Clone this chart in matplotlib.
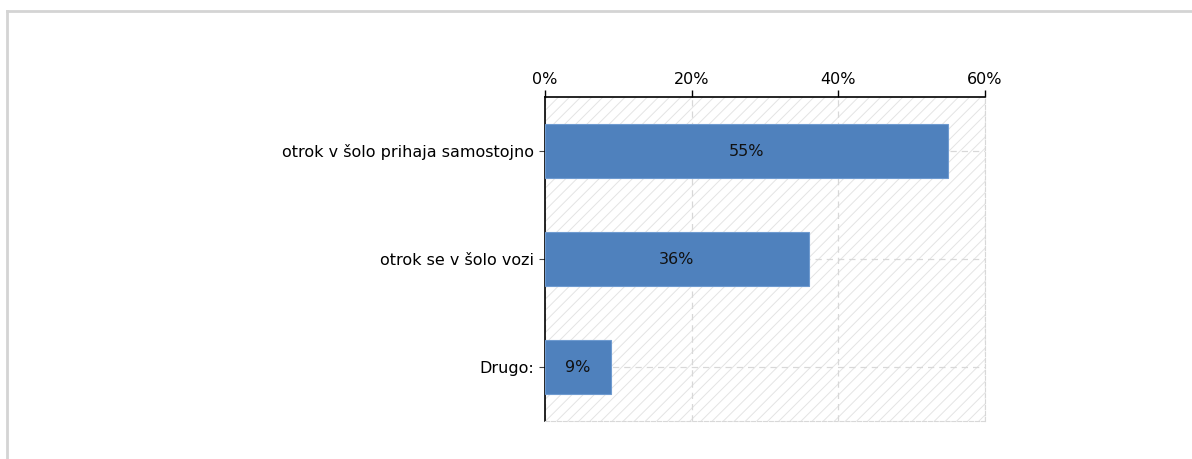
import numpy as np
import matplotlib.pyplot as plt
from matplotlib.patches import Rectangle
from matplotlib.lines import Line2D

categories = ["otrok v šolo prihaja samostojno", "otrok se v šolo vozi", "Drugo:"]
values = [55, 36, 9]
ticks = [0, 20, 40, 60]
tick_labels = ["0%", "20%", "40%", "60%"]

plt.rcParams['hatch.linewidth'] = 0.7
plt.rcParams['hatch.color'] = '#e4e4e4'

fig = plt.figure(figsize=(11.92, 4.59), dpi=100)
# light gray outer frame
fig.add_artist(Line2D([7/1192, 7/1192], [0, 1-11/459], color='#d4d4d4', lw=2, transform=fig.transFigure))
fig.add_artist(Line2D([7/1192, 1], [1-11/459, 1-11/459], color='#d4d4d4', lw=2, transform=fig.transFigure))

ax = fig.add_axes([545/1192, 1-421/459, 440/1192, 324/459])
ax.set_xlim(0, 60)
ax.set_ylim(len(categories)-0.5, -0.5)

ax.add_patch(Rectangle((0, 0), 1, 1, transform=ax.transAxes, facecolor='white',
                       hatch='///', edgecolor='#e4e4e4', lw=0, zorder=0))

y = np.arange(len(categories))
ax.barh(y, values, height=0.5, color='#4f81bd', edgecolor='#6f9bd0', lw=0.8, zorder=3)
for yi, v in zip(y, values):
    ax.text(v/2, yi, f"{v}%", ha='center', va='center', fontsize=11.5, color='#111111', zorder=4)

ax.set_xticks(ticks)
ax.set_xticklabels(tick_labels, fontsize=11.5)
ax.xaxis.tick_top()
ax.set_yticks(y)
ax.set_yticklabels(categories, fontsize=11.5)
ax.tick_params(axis='x', length=5, width=1, color='black', pad=2)
ax.tick_params(axis='y', length=4, width=0.8, color='#444444', pad=4)

ax.grid(True, color='#d8d8d8', ls=(0, (5, 4)), lw=0.9, zorder=1)
ax.set_axisbelow(True)

ax.spines['top'].set_color('black')
ax.spines['top'].set_linewidth(1.2)
ax.spines['left'].set_color('black')
ax.spines['left'].set_linewidth(1.2)
for s in ['right', 'bottom']:
    ax.spines[s].set_color('#d8d8d8')
    ax.spines[s].set_linestyle('--')

fig.savefig("out.png", dpi=100)
